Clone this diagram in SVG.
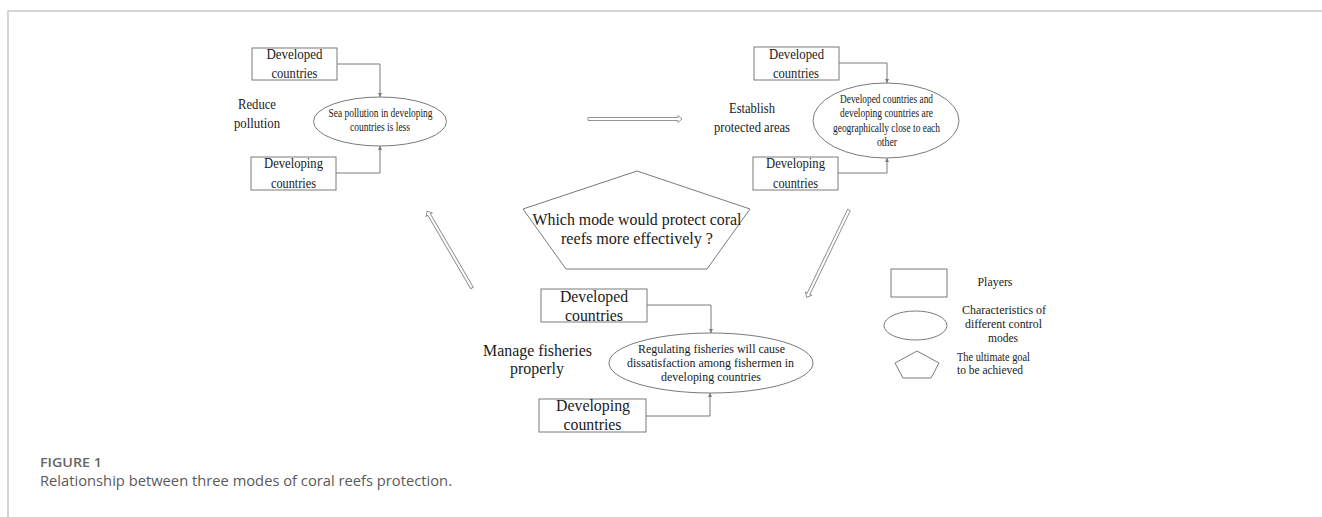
<svg xmlns="http://www.w3.org/2000/svg" width="1322" height="517" viewBox="0 0 1322 517">
<style>
.bg{fill:#ffffff}
.frame{stroke:#c8c8c8;stroke-width:1.5;fill:none}
.shape{fill:#ffffff;stroke:#7a7a7a;stroke-width:1}
.conn{fill:none;stroke:#7a7a7a;stroke-width:1}
.arrow{fill:#ffffff;stroke:#8a8a8a;stroke-width:0.9}
.t{font-family:"Liberation Serif","Times New Roman",serif;fill:#1a1a1a;text-anchor:middle}
.b{font-size:14.5px}
.bb{font-size:16px}
.lab{font-size:15px}
.e{font-size:11.5px}
.eb{font-size:12.5px}
.lg{font-size:12px}
.cap1{font-family:"Open Sans","Liberation Sans",sans-serif;font-weight:600;font-size:12.5px;fill:#666666}
.cap2{font-family:"Open Sans","Liberation Sans",sans-serif;font-size:15px;fill:#5a5a5a}
</style>
<defs>
<marker id="tip" viewBox="0 0 6 6" refX="6" refY="3" markerWidth="4" markerHeight="4" orient="auto">
<path d="M0,0 L6,3 L0,6 Z" fill="#7a7a7a"/>
</marker>
</defs>
<rect class="bg" x="0" y="0" width="1322" height="517"/>
<path class="frame" d="M8,517 V11 H1322"/>

<g id="connectors">
<path class="conn" d="M337,64 H380 V97" marker-end="url(#tip)"/>
<path class="conn" d="M336,173 H380 V146" marker-end="url(#tip)"/>
<path class="conn" d="M839,63 H887 V83" marker-end="url(#tip)"/>
<path class="conn" d="M838,173 H887 V158" marker-end="url(#tip)"/>
<path class="conn" d="M647,305 H711 V333" marker-end="url(#tip)"/>
<path class="conn" d="M646,416 H710 V393" marker-end="url(#tip)"/>
<path class="arrow" transform="translate(588,119)" d="M0,-1.5 H90 V-3.5 L94,0 L90,3.5 V1.5 H0 Z"/>
<path class="arrow" transform="translate(472,288) rotate(-120.3)" d="M0,-1.5 H85 V-3.5 L89,0 L85,3.5 V1.5 H0 Z"/>
<path class="arrow" transform="translate(849,210) rotate(115.8)" d="M0,-1.5 H93 V-3.5 L97,0 L93,3.5 V1.5 H0 Z"/>
</g>

<g id="tl-developed">
<rect class="shape" x="252" y="48" width="85" height="32"/>
<text class="t b" x="294.5" y="59" textLength="56" lengthAdjust="spacingAndGlyphs">Developed</text>
<text class="t b" x="294.5" y="78" textLength="46" lengthAdjust="spacingAndGlyphs">countries</text>
</g>
<g id="tl-developing">
<rect class="shape" x="251" y="157" width="85" height="33"/>
<text class="t b" x="293.5" y="168" textLength="59" lengthAdjust="spacingAndGlyphs">Developing</text>
<text class="t b" x="293.5" y="188" textLength="45" lengthAdjust="spacingAndGlyphs">countries</text>
</g>
<g id="tl-label">
<text class="t lab" x="257" y="109" textLength="38" lengthAdjust="spacingAndGlyphs">Reduce</text>
<text class="t lab" x="257" y="128" textLength="46" lengthAdjust="spacingAndGlyphs">pollution</text>
</g>
<g id="tl-ellipse">
<ellipse class="shape" cx="380" cy="121.5" rx="66.5" ry="24.5"/>
<text class="t e" x="380.5" y="117" textLength="104" lengthAdjust="spacingAndGlyphs">Sea pollution in developing</text>
<text class="t e" x="380" y="131" textLength="60" lengthAdjust="spacingAndGlyphs">countries is less</text>
</g>

<g id="tr-developed">
<rect class="shape" x="754" y="47" width="85" height="33"/>
<text class="t b" x="796.5" y="59" textLength="55" lengthAdjust="spacingAndGlyphs">Developed</text>
<text class="t b" x="796" y="78" textLength="46" lengthAdjust="spacingAndGlyphs">countries</text>
</g>
<g id="tr-developing">
<rect class="shape" x="753" y="157" width="85" height="33"/>
<text class="t b" x="795.5" y="168" textLength="59" lengthAdjust="spacingAndGlyphs">Developing</text>
<text class="t b" x="795.5" y="188" textLength="45" lengthAdjust="spacingAndGlyphs">countries</text>
</g>
<g id="tr-label">
<text class="t lab" x="752" y="113" textLength="46" lengthAdjust="spacingAndGlyphs">Establish</text>
<text class="t lab" x="752" y="132" textLength="76" lengthAdjust="spacingAndGlyphs">protected areas</text>
</g>
<g id="tr-ellipse">
<ellipse class="shape" cx="886" cy="120.5" rx="73" ry="37.5"/>
<text class="t e" x="886.5" y="103" textLength="93" lengthAdjust="spacingAndGlyphs">Developed countries and</text>
<text class="t e" x="886.5" y="117" textLength="93" lengthAdjust="spacingAndGlyphs">developing countries are</text>
<text class="t e" x="886.5" y="132" textLength="107" lengthAdjust="spacingAndGlyphs">geographically close to each</text>
<text class="t e" x="887" y="146" textLength="20" lengthAdjust="spacingAndGlyphs">other</text>
</g>

<g id="goal">
<polygon class="shape" points="637,171 750,209 707,269 566,269 523,209"/>
<text class="t" font-size="16" x="637" y="225" textLength="209" lengthAdjust="spacingAndGlyphs">Which mode would protect coral</text>
<text class="t" font-size="16" x="637" y="244" textLength="152" lengthAdjust="spacingAndGlyphs">reefs more effectively ?</text>
</g>

<g id="b-developed">
<rect class="shape" x="541" y="289" width="106" height="33"/>
<text class="t bb" x="594" y="302" textLength="68" lengthAdjust="spacingAndGlyphs">Developed</text>
<text class="t bb" x="594" y="321" textLength="58" lengthAdjust="spacingAndGlyphs">countries</text>
</g>
<g id="b-developing">
<rect class="shape" x="539" y="399" width="107" height="33"/>
<text class="t bb" x="593" y="411" textLength="74" lengthAdjust="spacingAndGlyphs">Developing</text>
<text class="t bb" x="592.5" y="430" textLength="58" lengthAdjust="spacingAndGlyphs">countries</text>
</g>
<g id="b-label">
<text class="t bb" x="537.5" y="356" textLength="109" lengthAdjust="spacingAndGlyphs">Manage fisheries</text>
<text class="t bb" x="537" y="374" textLength="54" lengthAdjust="spacingAndGlyphs">properly</text>
</g>
<g id="b-ellipse">
<ellipse class="shape" cx="711" cy="363" rx="102" ry="30"/>
<text class="t eb" x="711.5" y="353" textLength="147" lengthAdjust="spacingAndGlyphs">Regulating fisheries will cause</text>
<text class="t eb" x="710.5" y="367" textLength="167" lengthAdjust="spacingAndGlyphs">dissatisfaction among fishermen in</text>
<text class="t eb" x="711" y="381" textLength="100" lengthAdjust="spacingAndGlyphs">developing countries</text>
</g>

<g id="legend-players">
<rect class="shape" x="891" y="269" width="56" height="28"/>
<text class="t lg" x="995" y="286" textLength="35" lengthAdjust="spacingAndGlyphs">Players</text>
</g>
<g id="legend-characteristics">
<ellipse class="shape" cx="915.5" cy="325.5" rx="31.5" ry="14.5"/>
<text class="t lg" x="1004" y="314" textLength="84" lengthAdjust="spacingAndGlyphs">Characteristics of</text>
<text class="t lg" x="1003.5" y="328" textLength="77" lengthAdjust="spacingAndGlyphs">different control</text>
<text class="t lg" x="1003" y="342" textLength="30" lengthAdjust="spacingAndGlyphs">modes</text>
</g>
<g id="legend-goal">
<polygon class="shape" points="917,351 939,363 931,378 903,378 895,363"/>
<text class="t lg" x="957" y="361" style="text-anchor:start" textLength="73" lengthAdjust="spacingAndGlyphs">The ultimate goal</text>
<text class="t lg" x="957" y="374" style="text-anchor:start" textLength="66" lengthAdjust="spacingAndGlyphs">to be achieved</text>
</g>

<g id="caption">
<text class="cap1" x="40" y="467" textLength="62" lengthAdjust="spacingAndGlyphs">FIGURE 1</text>
<text class="cap2" x="40" y="486" textLength="412" lengthAdjust="spacingAndGlyphs">Relationship between three modes of coral reefs protection.</text>
</g>
</svg>
